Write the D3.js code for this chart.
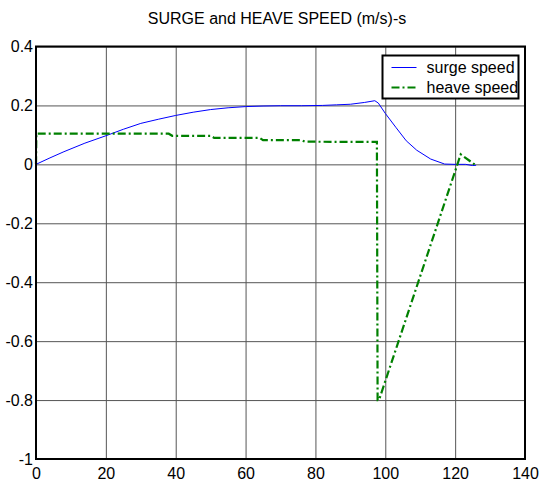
<!DOCTYPE html>
<html>
<head>
<meta charset="utf-8">
<script src="https://cdn.jsdelivr.net/npm/d3@7"></script>
<style>
  body { margin: 0; background: #fff; }
  svg { display: block; font-family: "Liberation Sans", Arial, sans-serif; }
</style>
</head>
<body>
<div id="chart"></div>
<script>
// data
var xTicks = [0, 20, 40, 60, 80, 100, 120, 140];
var yTicks = [-1, -0.8, -0.6, -0.4, -0.2, 0, 0.2, 0.4];
var seriesNames = ["surge speed", "heave speed"];

var surgeT = [0, 4, 8, 14, 20, 25, 30, 35, 40, 45, 50, 55, 60, 65, 70, 76, 82, 86, 90, 94, 97, 98, 100, 103, 106, 109, 113, 117, 120, 123, 125, 126];
var surgeV = [0, 0.022, 0.043, 0.072, 0.097, 0.119, 0.139, 0.153, 0.166, 0.177, 0.186, 0.192, 0.196, 0.198, 0.199, 0.199, 0.200, 0.202, 0.204, 0.210, 0.216, 0.208, 0.173, 0.126, 0.080, 0.048, 0.018, 0.001, 0, 0, -0.004, -0.003];

var heaveT = [0, 0.1, 38, 39, 50, 51, 64, 65, 76, 77, 97.6, 97.8, 98.2, 121.6, 126];
var heaveV = [0, 0.104, 0.104, 0.097, 0.097, 0.090, 0.090, 0.082, 0.082, 0.077, 0.076, -0.80, -0.80, 0.034, -0.004];

var width = 540, height = 484;
var margin = {top: 46.5, right: 15, bottom: 25, left: 36};
var w = width - margin.left - margin.right;
var h = height - margin.top - margin.bottom;
var fs = '16px';

var svg = d3.select('#chart').append('svg').attr('width', width).attr('height', height);

svg.append('text').attr('x', 277).attr('y', 24).attr('text-anchor', 'middle')
  .style('font-size', fs).text('SURGE and HEAVE SPEED (m/s)-s');

var g = svg.append('g').attr('transform', `translate(${margin.left},${margin.top})`);

var x = d3.scaleLinear().domain([0, 140]).range([0, w]);
var y = d3.scaleLinear().domain([-1, 0.4]).range([h, 0]);

// grid
g.append('g').attr('transform', `translate(0,${h})`)
  .call(d3.axisBottom(x).tickValues(xTicks).tickSize(-h).tickFormat(''))
  .call(a => a.select('.domain').remove())
  .selectAll('line').attr('stroke', '#555').attr('stroke-width', 1);
g.append('g')
  .call(d3.axisLeft(y).tickValues(yTicks).tickSize(-w).tickFormat(''))
  .call(a => a.select('.domain').remove())
  .selectAll('line').attr('stroke', '#555').attr('stroke-width', 1);

// tick labels
var xa = g.append('g').attr('transform', `translate(0,${h})`)
  .call(d3.axisBottom(x).tickValues(xTicks).tickSize(0).tickPadding(9).tickFormat(d => String(d)));
xa.select('.domain').remove();
xa.selectAll('text').style('font-size', fs).attr('fill', '#000');

var ya = g.append('g')
  .call(d3.axisLeft(y).tickValues(yTicks).tickSize(0).tickPadding(3).tickFormat(d => String(+d.toFixed(1))));
ya.select('.domain').remove();
ya.selectAll('text').style('font-size', fs).attr('fill', '#000');

// lines
var line = d3.line().x(d => x(d[0])).y(d => y(d[1]));
var surge = surgeT.map((t, i) => [t, surgeV[i]]);
var heave = heaveT.map((t, i) => [t, heaveV[i]]);

g.append('path').datum(surge).attr('d', line)
  .attr('fill', 'none').attr('stroke', '#0000ff').attr('stroke-width', 1);
g.append('path').datum(heave).attr('d', line)
  .attr('fill', 'none').attr('stroke', '#008000').attr('stroke-width', 2.2)
  .attr('stroke-dasharray', '8,3,2,3');

// box
g.append('rect').attr('width', w).attr('height', h)
  .attr('fill', 'none').attr('stroke', '#000').attr('stroke-width', 2);

// legend
var leg = svg.append('g').attr('transform', 'translate(382.5,55.5)');
leg.append('rect').attr('width', 136).attr('height', 43)
  .attr('fill', '#fff').attr('stroke', '#000').attr('stroke-width', 2);
var styles = [
  {stroke: '#0000ff', sw: 1, dash: null},
  {stroke: '#008000', sw: 2.2, dash: '8,3,2,3'}
];
seriesNames.forEach(function(name, i){
  var yy = 12 + i * 20;
  leg.append('line').attr('x1', 9).attr('x2', 34).attr('y1', yy).attr('y2', yy)
    .attr('stroke', styles[i].stroke).attr('stroke-width', styles[i].sw)
    .attr('stroke-dasharray', styles[i].dash);
  leg.append('text').attr('x', 44).attr('y', yy + 5.5)
    .style('font-size', fs).text(name);
});
</script>
</body>
</html>
